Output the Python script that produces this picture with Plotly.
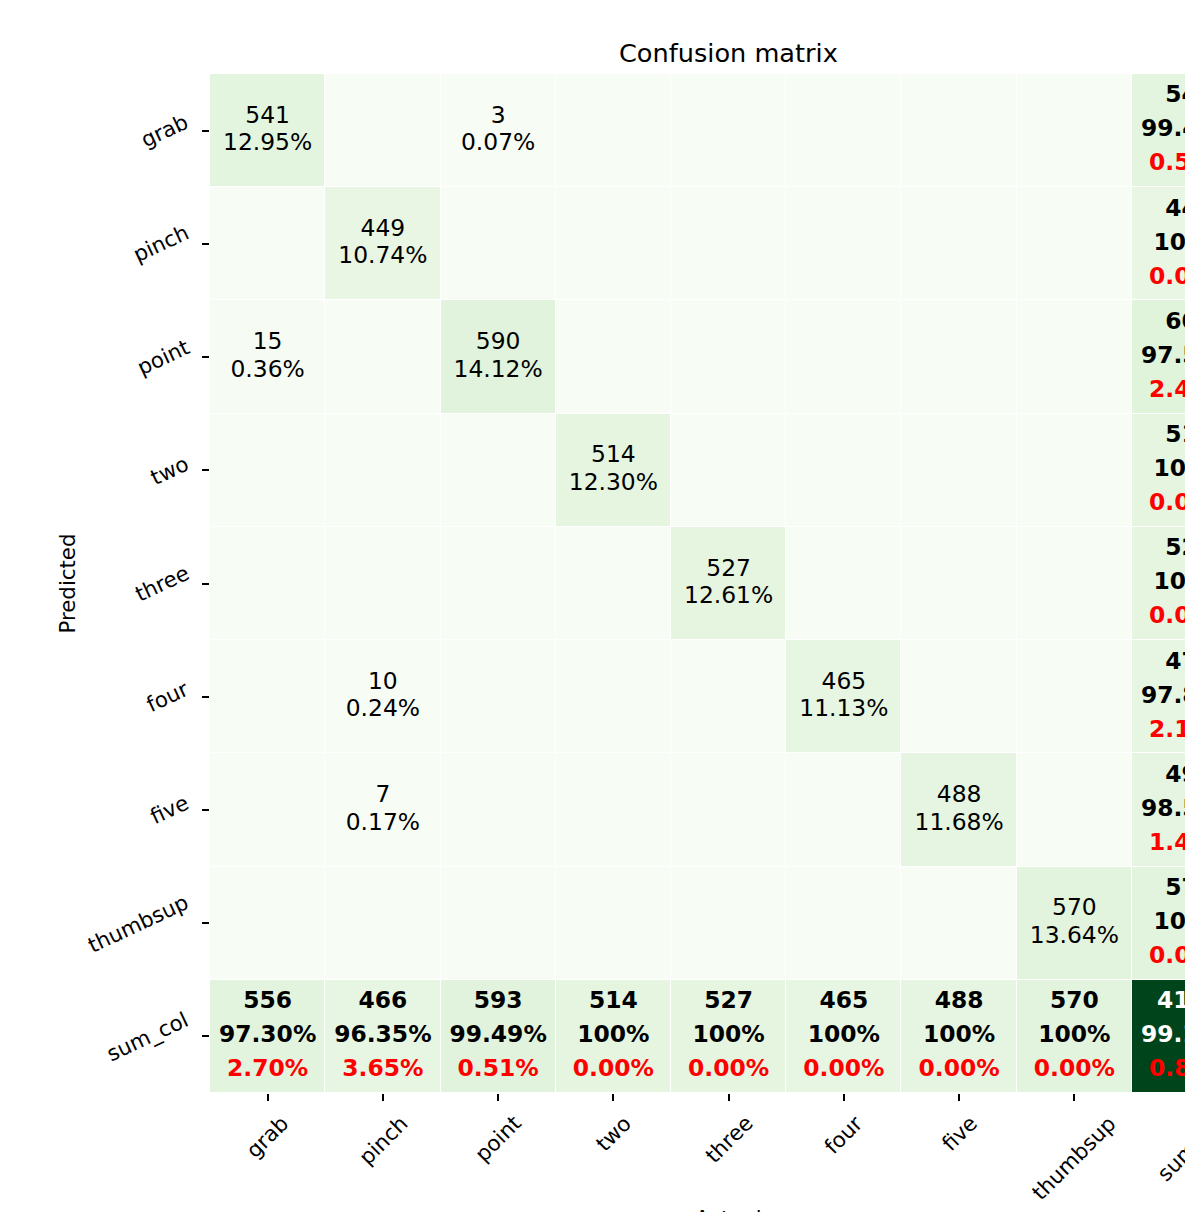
import plotly.graph_objects as go

# ---- data -----------------------------------------------------------------
classes = ["grab", "pinch", "point", "two", "three", "four", "five", "thumbsup"]
row_labels = classes + ["sum_col"]
col_labels = classes + ["sum_lin"]

# counts: rows = predicted class, columns = actual class
grab_row = [541, 0, 3, 0, 0, 0, 0, 0]
pinch_row = [0, 449, 0, 0, 0, 0, 0, 0]
point_row = [15, 0, 590, 0, 0, 0, 0, 0]
two_row = [0, 0, 0, 514, 0, 0, 0, 0]
three_row = [0, 0, 0, 0, 527, 0, 0, 0]
four_row = [0, 10, 0, 0, 0, 465, 0, 0]
five_row = [0, 7, 0, 0, 0, 0, 488, 0]
thumbsup_row = [0, 0, 0, 0, 0, 0, 0, 570]
counts = [grab_row, pinch_row, point_row, two_row, three_row,
          four_row, five_row, thumbsup_row]

# ---- derived totals ---------------------------------------------------------
n = len(classes)
row_sums = [sum(r) for r in counts]
col_sums = [sum(counts[r][c] for r in range(n)) for c in range(n)]
total = sum(row_sums)
correct = sum(counts[i][i] for i in range(n))

z = [counts[r] + [row_sums[r]] for r in range(n)]
z.append(col_sums + [total])


def ok_fmt(v):
    return "100%" if round(v, 2) == 100 else "%.2f%%" % v


# ---- style ----------------------------------------------------------------
FONT = "DejaVu Sans"
CELL_FS = 23.4
LABEL_FS = 21.3
TITLE_FS = 25.6
X_VISIBLE = 8.46          # number of columns that fit in the plot area
XR = [-0.5, -0.5 + X_VISIBLE]

greens = [[0.0, "#f7fcf5"], [0.125, "#e5f5e0"], [0.25, "#c7e9c0"],
          [0.375, "#a1d99b"], [0.5, "#74c476"], [0.625, "#41ab5d"],
          [0.75, "#238b45"], [0.875, "#006d2c"], [1.0, "#00441b"]]


def xpaper(i):
    return (i - XR[0]) / (XR[1] - XR[0])


fig = go.Figure()

fig.add_trace(go.Heatmap(
    z=z, x=list(range(n + 1)), y=list(range(n + 1)),
    colorscale=greens, zmin=0, zmax=total, showscale=False,
    xgap=1, ygap=1, hoverinfo="skip",
))

# inner cells: count and share of total on two lines
cx, cy_top, cy_bot, t_top, t_bot = [], [], [], [], []
for r in range(n):
    for c in range(n):
        v = counts[r][c]
        if v > 0:
            cx.append(c)
            cy_top.append(r - 0.122)
            cy_bot.append(r + 0.122)
            t_top.append(str(v))
            t_bot.append("%.2f%%" % (100.0 * v / total))

for ys, ts in ((cy_top, t_top), (cy_bot, t_bot)):
    fig.add_trace(go.Scatter(
        x=cx, y=ys, text=ts, mode="text", textposition="middle center",
        textfont=dict(family=FONT, size=CELL_FS, color="black"),
        hoverinfo="skip", showlegend=False,
    ))

# totals: count, percent correct, percent wrong
sx, sy, s_cnt, s_ok, s_err, s_col = [], [], [], [], [], []
for r in range(n):
    v = row_sums[r]
    ok = 100.0 * counts[r][r] / v
    sx.append(n); sy.append(r)
    s_cnt.append(str(v)); s_ok.append(ok_fmt(ok)); s_err.append("%.2f%%" % (100 - ok))
    s_col.append("black")
for c in range(n):
    v = col_sums[c]
    ok = 100.0 * counts[c][c] / v
    sx.append(c); sy.append(n)
    s_cnt.append(str(v)); s_ok.append(ok_fmt(ok)); s_err.append("%.2f%%" % (100 - ok))
    s_col.append("black")
ok = 100.0 * correct / total
sx.append(n); sy.append(n)
s_cnt.append(str(total)); s_ok.append(ok_fmt(ok)); s_err.append("%.2f%%" % (100 - ok))
s_col.append("white")

for dy, ts, colors in ((-0.3, s_cnt, s_col), (0.0, s_ok, s_col),
                       (0.3, s_err, ["red"] * len(sx))):
    fig.add_trace(go.Scatter(
        x=sx, y=[y + dy for y in sy], text=["<b>%s</b>" % t for t in ts],
        mode="text", textposition="middle center",
        textfont=dict(family=FONT, size=CELL_FS, color=colors),
        hoverinfo="skip", showlegend=False,
    ))

annotations = []
annotations.append(dict(
    text="Confusion matrix", xref="paper", yref="paper", x=xpaper(n / 2), y=1,
    xanchor="center", yanchor="middle", yshift=21, showarrow=False,
    font=dict(family=FONT, size=TITLE_FS, color="black")))
for i, lbl in enumerate(col_labels):
    annotations.append(dict(
        text=lbl, xref="paper", yref="paper", x=xpaper(i), y=0,
        xanchor="center", yanchor="top", yshift=-15, textangle=-45,
        showarrow=False, font=dict(family=FONT, size=LABEL_FS, color="black")))
for i, lbl in enumerate(row_labels):
    annotations.append(dict(
        text=lbl, xref="paper", yref="y", x=0, y=i,
        xanchor="right", yanchor="middle", xshift=-15, textangle=-25,
        showarrow=False, font=dict(family=FONT, size=LABEL_FS, color="black")))
annotations.append(dict(
    text="Predicted", xref="paper", yref="paper", x=0, y=0.5, xshift=-143,
    xanchor="center", yanchor="middle", textangle=-90, showarrow=False,
    font=dict(family=FONT, size=LABEL_FS, color="black")))
annotations.append(dict(
    text="Actual", xref="paper", yref="paper", x=xpaper(n / 2), y=0,
    xanchor="center", yanchor="top", yshift=-111, showarrow=False,
    font=dict(family=FONT, size=LABEL_FS, color="black")))

axis_common = dict(
    tickvals=list(range(n + 1)), showticklabels=False, ticks="outside",
    ticklen=7, tickwidth=1.7, tickcolor="black", showgrid=False,
    zeroline=False, showline=False, fixedrange=True,
)
fig.update_layout(
    width=1185, height=1212,
    margin=dict(l=210, r=0, t=74, b=119, pad=0),
    paper_bgcolor="white", plot_bgcolor="white",
    xaxis=dict(range=XR, **axis_common),
    yaxis=dict(range=[n + 0.5, -0.5], **axis_common),
    annotations=annotations,
    showlegend=False,
    font=dict(family=FONT),
)

fig.write_html("out.html", config={"displayModeBar": False})
